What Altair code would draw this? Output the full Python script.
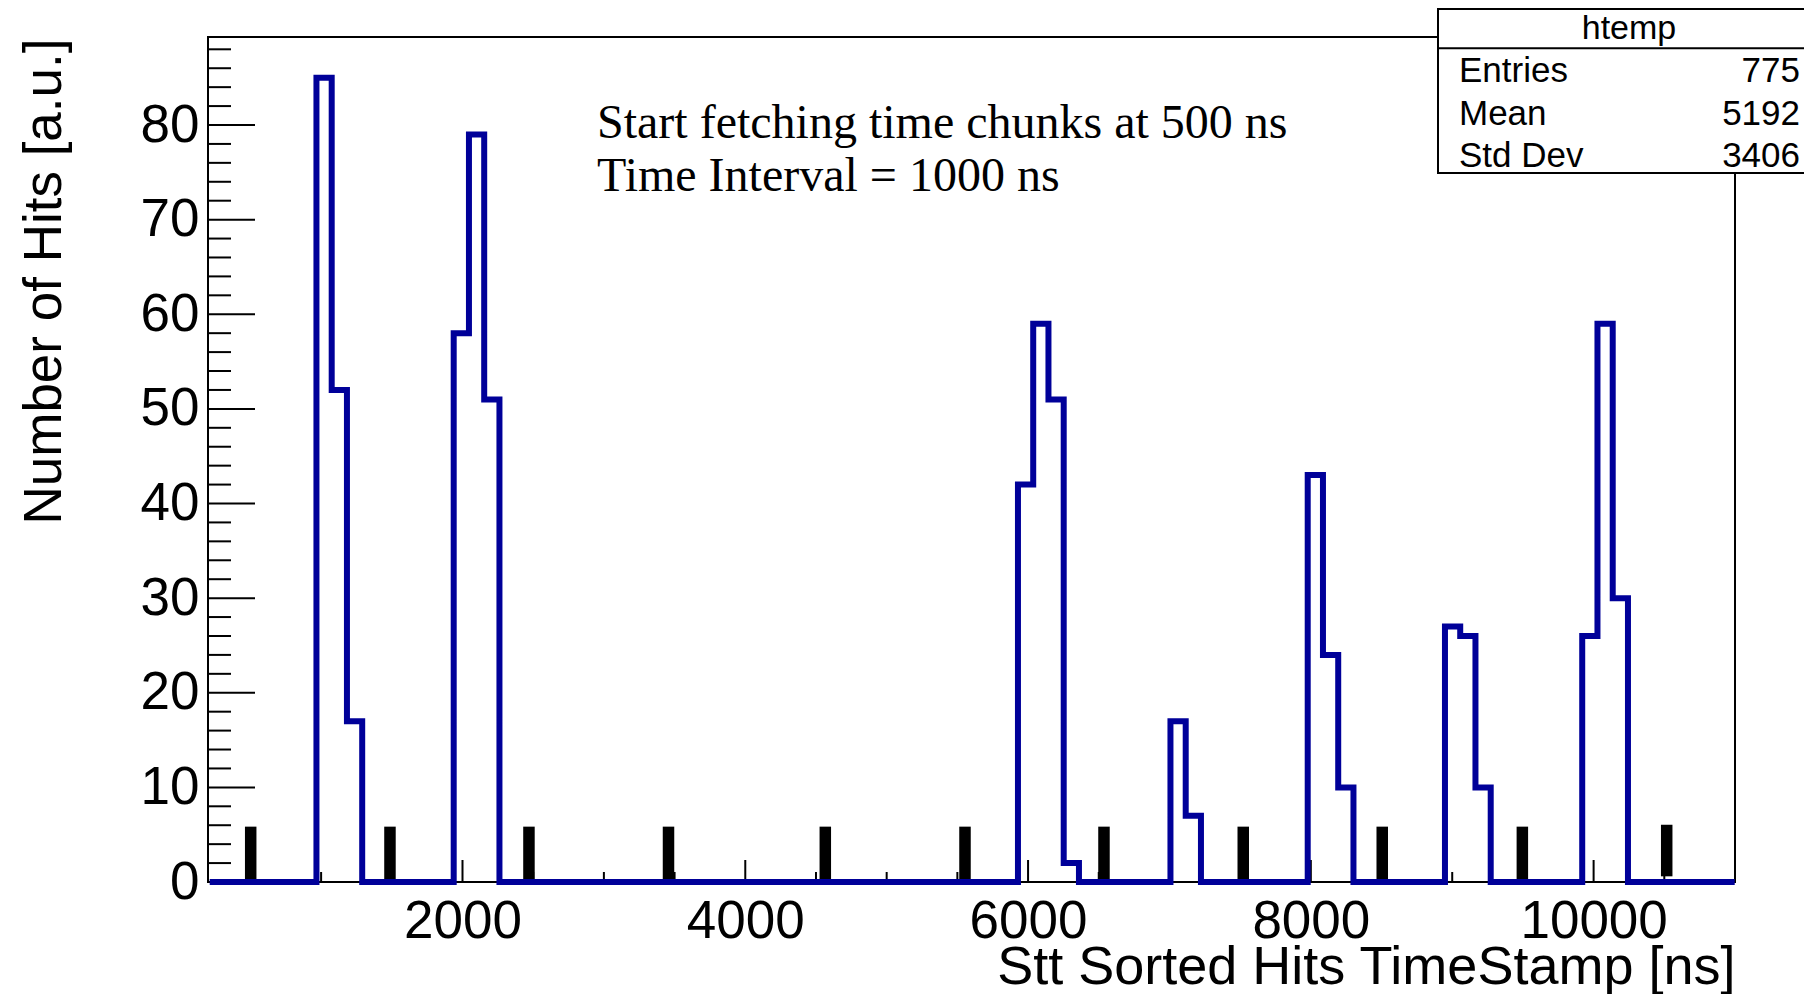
import altair as alt
import numpy as np
import pandas as pd

SANS = "Liberation Sans"
SERIF = "Liberation Serif"
BLUE = "#000099"

# ---------------- data ----------------
HIST_MIN = 212.0
HIST_MAX = 10998.0
N_BINS = 100
PEAK_BINS = [7, 8, 9, 16, 17, 18, 53, 54, 55, 56, 63, 64, 72, 73, 74, 81, 82, 83, 90, 91, 92]
PEAK_COUNTS = [85, 52, 17, 58, 79, 51, 42, 59, 51, 2, 17, 7, 43, 24, 10, 27, 26, 10, 26, 59, 30]

MARKER_X = [502, 1487, 2470, 3457, 4566, 5554, 6537, 7522, 8505, 9496, 10517]
MARKER_LOW = [0.2, 0.2, 0.2, 0.2, 0.2, 0.2, 0.2, 0.2, 0.2, 0.2, 0.6]
MARKER_HIGH = [5.85, 5.85, 5.85, 5.85, 5.85, 5.85, 5.85, 5.85, 5.85, 5.85, 6.05]

X_LABELS = [2000, 4000, 6000, 8000, 10000]
X_MINOR = [500, 1000, 1500, 2500, 3000, 3500, 4500, 5000, 5500, 6500, 7000, 7500,
           8500, 9000, 9500, 10500]
Y_LABELS = [0, 10, 20, 30, 40, 50, 60, 70, 80]
Y_MINOR = [2, 4, 6, 8, 12, 14, 16, 18, 22, 24, 26, 28, 32, 34, 36, 38, 42, 44, 46, 48,
           52, 54, 56, 58, 62, 64, 66, 68, 72, 74, 76, 78, 82, 84, 86, 88]

X_DOMAIN = [200, 11000]
Y_DOMAIN = [0, 89.3]

STATS_TITLE = "htemp"
STATS_NAMES = ["Entries", "Mean", "Std Dev"]
STATS_VALUES = ["775", "5192", "3406"]

NOTE_LINES = ["Start fetching time chunks at 500 ns", "Time Interval = 1000 ns"]

X_TITLE = "Stt Sorted Hits TimeStamp [ns]"
Y_TITLE = "Number of Hits [a.u.]"

# ---------------- layout ----------------
W, H = 1527, 845

counts = np.zeros(N_BINS)
counts[PEAK_BINS] = PEAK_COUNTS
edges = np.linspace(HIST_MIN, HIST_MAX, N_BINS + 1)
hist_df = pd.DataFrame({"t": edges, "n": list(counts) + [counts[-1]]})

xscale = alt.Scale(domain=X_DOMAIN, nice=False, zero=False)
yscale = alt.Scale(domain=Y_DOMAIN, nice=False, zero=False)

one = pd.DataFrame({"a": [0]})

xaxis = alt.Axis(values=X_LABELS, format="d", labelFont=SANS, labelFontSize=53,
                 labelColor="black", labelPadding=13, tickSize=0, domain=False,
                 ticks=False, grid=False, labelFlush=False, labelOverlap=False,
                 title=X_TITLE, titleFont=SANS, titleFontSize=54,
                 titleFontWeight="normal", titleColor="black", titleX=W, titleY=101,
                 titleAlign="right", titleBaseline="alphabetic")
yaxis = alt.Axis(values=Y_LABELS, format="d", labelFont=SANS, labelFontSize=53,
                 labelColor="black", labelPadding=9, tickSize=0, domain=False,
                 ticks=False, grid=False, labelFlush=False, labelOverlap=False,
                 title=Y_TITLE, titleFont=SANS, titleFontSize=53,
                 titleFontWeight="normal", titleColor="black", titleAngle=270,
                 titleX=-148, titleY=1, titleAlign="right", titleBaseline="alphabetic")


def X(field):
    return alt.X(field, scale=xscale, axis=xaxis, title=X_TITLE)


def Y(field):
    return alt.Y(field, scale=yscale, axis=yaxis, title=Y_TITLE)


layers = []

# frame
frame = alt.Chart(one)
layers.append(frame.mark_rule(color="black", strokeWidth=2).encode(
    x=alt.value(0), y=alt.value(0), y2=alt.value(H)))
layers.append(frame.mark_rule(color="black", strokeWidth=2).encode(
    x=alt.value(W), y=alt.value(0), y2=alt.value(H)))
layers.append(frame.mark_rule(color="black", strokeWidth=2).encode(
    x=alt.value(-1), x2=alt.value(W + 1), y=alt.value(0)))
layers.append(frame.mark_rule(color="black", strokeWidth=2).encode(
    x=alt.value(-1), x2=alt.value(W + 1), y=alt.value(H)))

# y ticks (inside)
layers.append(alt.Chart(pd.DataFrame({"n": Y_LABELS})).mark_rule(color="black", strokeWidth=2).encode(
    y=Y("n:Q"), x=alt.value(0), x2=alt.value(47)))
layers.append(alt.Chart(pd.DataFrame({"n": Y_MINOR})).mark_rule(color="black", strokeWidth=2).encode(
    y=Y("n:Q"), x=alt.value(0), x2=alt.value(23)))
# x ticks (inside)
layers.append(alt.Chart(pd.DataFrame({"t": X_LABELS})).mark_rule(color="black", strokeWidth=2).encode(
    x=X("t:Q"), y=alt.value(H), y2=alt.value(H - 22)))
layers.append(alt.Chart(pd.DataFrame({"t": X_MINOR})).mark_rule(color="black", strokeWidth=2).encode(
    x=X("t:Q"), y=alt.value(H), y2=alt.value(H - 10)))

# black chunk markers
mk = pd.DataFrame({"t": MARKER_X, "n": MARKER_LOW, "hi": MARKER_HIGH})
layers.append(alt.Chart(mk).mark_rule(color="black", strokeWidth=11.5, strokeCap="butt").encode(
    x=X("t:Q"), y=Y("n:Q"), y2="hi:Q"))

# histogram outline
layers.append(alt.Chart(hist_df).mark_line(interpolate="step-after", color=BLUE, strokeWidth=6,
                                           strokeJoin="miter", strokeCap="butt").encode(
    x=X("t:Q"), y=Y("n:Q")))

# annotation text
for line, yy in zip(NOTE_LINES, [100.5, 153.5]):
    layers.append(alt.Chart(pd.DataFrame({"s": [line]})).mark_text(
        font=SERIF, fontSize=48, align="left", baseline="alphabetic", color="black").encode(
        x=alt.value(389), y=alt.value(yy), text="s:N"))

# stats box
layers.append(alt.Chart(one).mark_rect(fill="white", stroke="black", strokeWidth=2).encode(
    x=alt.value(1230), x2=alt.value(1660), y=alt.value(-28), y2=alt.value(136)))
layers.append(alt.Chart(one).mark_rule(color="black", strokeWidth=2).encode(
    x=alt.value(1230), x2=alt.value(1660), y=alt.value(11.3)))
layers.append(alt.Chart(pd.DataFrame({"s": [STATS_TITLE]})).mark_text(
    font=SANS, fontSize=34, align="center", baseline="alphabetic", color="black").encode(
    x=alt.value(1421), y=alt.value(2), text="s:N"))
for i, (nm, val) in enumerate(zip(STATS_NAMES, STATS_VALUES)):
    yy = [44.7, 88.0, 129.7][i]
    layers.append(alt.Chart(pd.DataFrame({"s": [nm]})).mark_text(
        font=SANS, fontSize=35, align="left", baseline="alphabetic", color="black").encode(
        x=alt.value(1251), y=alt.value(yy), text="s:N"))
    layers.append(alt.Chart(pd.DataFrame({"s": [val]})).mark_text(
        font=SANS, fontSize=35, align="right", baseline="alphabetic", color="black").encode(
        x=alt.value(1592), y=alt.value(yy), text="s:N"))

chart = alt.layer(*layers).properties(
    width=W, height=H,
    autosize=alt.AutoSizeParams(type="none"),
    padding={"left": 200, "top": 29, "right": 69, "bottom": 112},
    background="white",
).configure_view(stroke=None)

chart.save("out.html", embed_options={"renderer": "svg", "actions": False})
